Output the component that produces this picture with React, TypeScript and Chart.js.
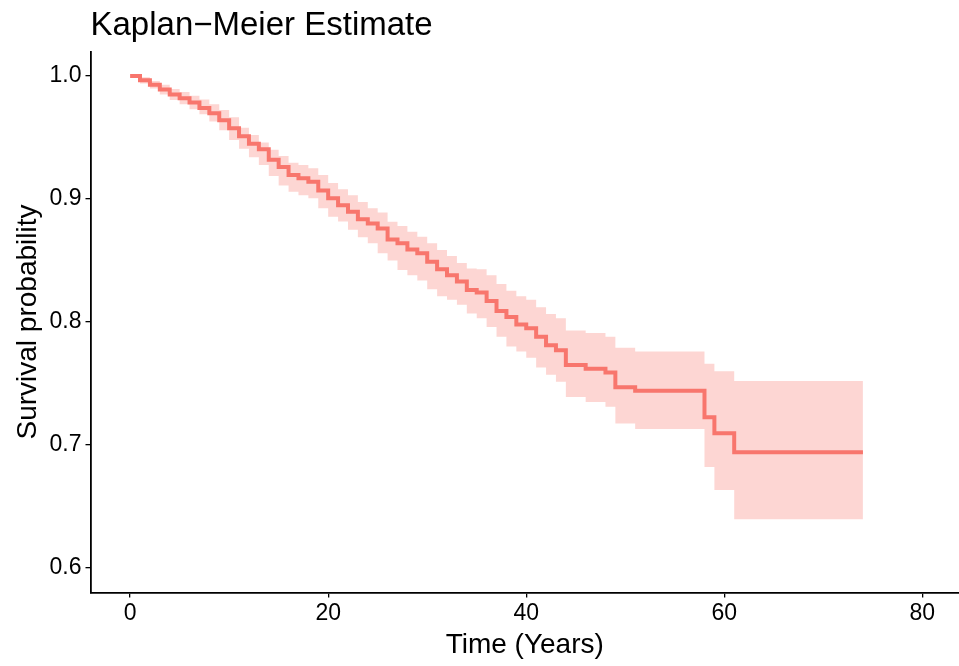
import React, { useEffect, useRef } from "react";
import { Chart, registerables } from "chart.js";

Chart.register(...registerables);

const chartTitle = "Kaplan\u2212Meier Estimate";
const xAxisTitle = "Time (Years)";
const yAxisTitle = "Survival probability";

const times = [
  0, 1, 2, 3, 4, 5, 6, 7, 8, 9,
  10, 11, 12, 13, 14, 15, 16, 17, 18, 19,
  20, 21, 22, 23, 24, 25, 26, 27, 28, 29,
  30, 31, 32, 33, 34, 35, 36, 37, 38, 39,
  40, 41, 42, 43, 44, 46, 48, 49, 51, 58,
  59, 61, 74,
];

const survival = [
  1.0, 0.9967, 0.993, 0.989, 0.985, 0.982, 0.9786, 0.974, 0.9697, 0.964,
  0.9575, 0.951, 0.945, 0.9404, 0.932, 0.926, 0.9195, 0.917, 0.914, 0.907,
  0.9006, 0.895, 0.8897, 0.8835, 0.8802, 0.876, 0.867, 0.864, 0.859, 0.856,
  0.849, 0.843, 0.838, 0.833, 0.826, 0.824, 0.817, 0.809, 0.804, 0.798,
  0.795, 0.788, 0.781, 0.777, 0.765, 0.762, 0.759, 0.747, 0.744, 0.7225,
  0.7095, 0.694, 0.694,
];

const upperCI = [
  1.0, 0.999, 0.996, 0.993, 0.9895, 0.987, 0.984, 0.981, 0.977, 0.9725,
  0.9665, 0.958, 0.952, 0.946, 0.94, 0.935, 0.9295, 0.9276, 0.925, 0.9195,
  0.913, 0.908, 0.903, 0.8975, 0.8925, 0.889, 0.8816, 0.878, 0.8734, 0.8694,
  0.864, 0.8585, 0.8537, 0.848, 0.8436, 0.843, 0.838, 0.831, 0.8255, 0.821,
  0.818, 0.812, 0.8065, 0.803, 0.793, 0.791, 0.788, 0.779, 0.776, 0.766,
  0.76, 0.752, 0.752,
];

const lowerCI = [
  1.0, 0.994, 0.99, 0.985, 0.9805, 0.977, 0.973, 0.969, 0.963, 0.956,
  0.948, 0.941, 0.934, 0.9276, 0.9187, 0.911, 0.906, 0.903, 0.9006, 0.8925,
  0.8857, 0.8817, 0.875, 0.869, 0.864, 0.856, 0.85, 0.8423, 0.838, 0.8337,
  0.8266, 0.821, 0.818, 0.814, 0.807, 0.803, 0.796, 0.788, 0.78, 0.776,
  0.771, 0.763, 0.757, 0.7515, 0.739, 0.735, 0.731, 0.7175, 0.713, 0.682,
  0.6634, 0.6396, 0.6396,
];

const xTicks = [0, 20, 40, 60, 80];
const yTicks = [0.6, 0.7, 0.8, 0.9, 1.0];

const FONT = '"Liberation Sans", Arial, Helvetica, sans-serif';
const LINE_COLOR = "#F8766D";
const BAND_COLOR = "rgba(248,118,109,0.3)";

export default function App() {
  const canvasRef = useRef<HTMLCanvasElement | null>(null);

  useEffect(() => {
    const canvas = canvasRef.current;
    if (!canvas) return;

    const toPts = (ys: number[]) => times.map((t, i) => ({ x: t, y: ys[i] }));

    const titlePlugin = {
      id: "plotTitle",
      afterDraw(chart: any) {
        const ctx = chart.ctx;
        ctx.save();
        ctx.font = `33px ${FONT}`;
        ctx.fillStyle = "#000";
        ctx.textAlign = "left";
        ctx.textBaseline = "alphabetic";
        ctx.fillText(chartTitle, chart.chartArea.left, 35);
        ctx.restore();
      },
    };

    const chart = new Chart(canvas, {
      type: "line",
      data: {
        datasets: [
          {
            label: "Survival",
            data: toPts(survival),
            borderColor: LINE_COLOR,
            borderWidth: 4,
            pointRadius: 0,
            stepped: true,
            fill: false,
          },
          {
            label: "Upper",
            data: toPts(upperCI),
            borderColor: "rgba(0,0,0,0)",
            borderWidth: 0,
            pointRadius: 0,
            stepped: true,
            fill: false,
          },
          {
            label: "Lower",
            data: toPts(lowerCI),
            borderColor: "rgba(0,0,0,0)",
            borderWidth: 0,
            pointRadius: 0,
            stepped: true,
            fill: "-1",
            backgroundColor: BAND_COLOR,
          },
        ],
      },
      options: {
        animation: false,
        responsive: false,
        devicePixelRatio: 1,
        layout: { padding: { top: 51.5, left: 0, right: 0, bottom: 0 } },
        plugins: {
          legend: { display: false },
          tooltip: { enabled: false },
          title: { display: false },
        },
        scales: {
          x: {
            type: "linear",
            min: -4,
            max: 83.7,
            afterBuildTicks: (s: any) => {
              s.ticks = xTicks.map((v) => ({ value: v }));
            },
            afterFit: (s: any) => {
              s.height = 73.5;
            },
            ticks: {
              color: "#000",
              font: { family: FONT, size: 23 },
              padding: 2,
              maxRotation: 0,
              callback: (v: any) => String(v),
            },
            grid: {
              display: true,
              drawOnChartArea: false,
              drawTicks: true,
              tickLength: 5,
              color: "#000",
              lineWidth: 1.3,
            },
            border: { display: true, color: "#000", width: 1.8 },
            title: {
              display: true,
              text: xAxisTitle,
              color: "#000",
              font: { family: FONT, size: 28 },
              padding: { top: 0, bottom: 4 },
            },
          },
          y: {
            type: "linear",
            min: 0.58,
            max: 1.02,
            afterBuildTicks: (s: any) => {
              s.ticks = yTicks.map((v) => ({ value: v }));
            },
            afterFit: (s: any) => {
              s.width = 90.5;
            },
            ticks: {
              color: "#000",
              font: { family: FONT, size: 23 },
              padding: 4,
              callback: (v: any) => Number(v).toFixed(1),
            },
            grid: {
              display: true,
              drawOnChartArea: false,
              drawTicks: true,
              tickLength: 5,
              color: "#000",
              lineWidth: 1.3,
            },
            border: { display: true, color: "#000", width: 1.8 },
            title: {
              display: true,
              text: yAxisTitle,
              color: "#000",
              font: { family: FONT, size: 28 },
              padding: { top: 11, bottom: 0 },
            },
          },
        },
      },
      plugins: [titlePlugin],
    });

    return () => {
      chart.destroy();
    };
  }, []);

  return (
    <div style={{ position: "absolute", left: 0, top: 0, width: 959, height: 666, background: "#fff" }}>
      <canvas ref={canvasRef} width={959} height={666} style={{ display: "block", width: 959, height: 666 }} />
    </div>
  );
}
